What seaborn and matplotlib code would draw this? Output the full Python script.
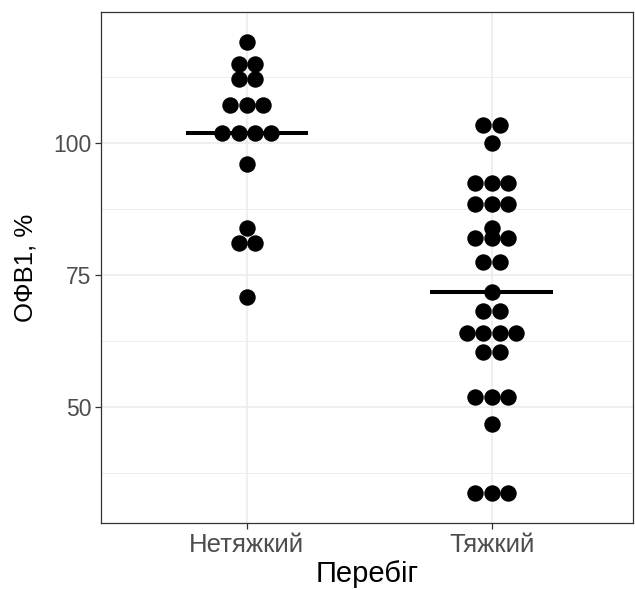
import numpy as np
import pandas as pd
import matplotlib
matplotlib.use("Agg")
import matplotlib.pyplot as plt
import seaborn as sns

# дані: значення ОФВ1 та кількість точок у кожному рядку
mild_values = [119.1, 115.0, 112.1, 107.2, 101.9, 96.0, 83.9, 81.1, 70.8]
mild_counts = [1, 2, 2, 3, 4, 1, 1, 2, 1]
severe_values = [103.4, 100.0, 92.4, 88.4, 83.9, 82.0, 77.5, 71.8, 68.2, 64.0, 60.4, 51.9, 46.8, 33.7]
severe_counts = [2, 1, 3, 3, 1, 3, 2, 1, 2, 4, 2, 3, 1, 3]
groups = ["Нетяжкий", "Тяжкий"]

rows = []
for g, (vals, cnts) in enumerate([(mild_values, mild_counts), (severe_values, severe_counts)]):
    for v, n in zip(vals, cnts):
        for i in range(n):
            rows.append({"group": groups[g], "gi": g, "value": v, "slot": i - (n - 1) / 2})
df = pd.DataFrame(rows)

# ширина точки у одиницях осі x (як у geom_dotplot)
dot_w = 0.067
df["x"] = df["gi"] + df["slot"] * dot_w

sns.set_style("white")
plt.rcParams["font.family"] = ["Liberation Sans", "DejaVu Sans"]

fig = plt.figure(figsize=(6.35, 5.90), dpi=100)
ax = fig.add_axes([101 / 635, 1 - 523 / 590, (633 - 101) / 635, (523 - 12) / 590])

ax.set_xlim(-0.595, 1.577)
ax.set_ylim(28.0, 124.8)

ax.set_yticks([50, 75, 100])
ax.set_yticks([37.5, 62.5, 87.5, 112.5], minor=True)
ax.set_xticks([0, 1])
ax.set_xticklabels(groups)
ax.grid(True, which="major", color="#EBEBEB", linewidth=1.1)
ax.grid(True, which="minor", axis="y", color="#EBEBEB", linewidth=0.6)
ax.set_axisbelow(True)

sns.scatterplot(data=df, x="x", y="value", color="black", s=140, edgecolor="black",
                linewidth=0, ax=ax, legend=False, zorder=3)

med = df.groupby("gi")["value"].median()
ax.hlines(med.values, med.index - 0.25, med.index + 0.25, color="black", linewidth=2.9, zorder=4)

for s in ax.spines.values():
    s.set_visible(True)
    s.set_color("#333333")
    s.set_linewidth(0.9)

ax.tick_params(axis="both", which="major", length=4, width=0.9, color="#333333",
               labelcolor="#4D4D4D", pad=3, left=True, bottom=True)
ax.tick_params(axis="y", labelsize=16.5)
ax.tick_params(axis="x", labelsize=18.5)
ax.tick_params(axis="y", which="minor", length=0)

ax.set_xlabel("Перебіг", fontsize=21, color="black", labelpad=2)
ax.set_ylabel("ОФВ1, %", fontsize=18.5, color="black", labelpad=11)

fig.savefig("out.png", dpi=100)
